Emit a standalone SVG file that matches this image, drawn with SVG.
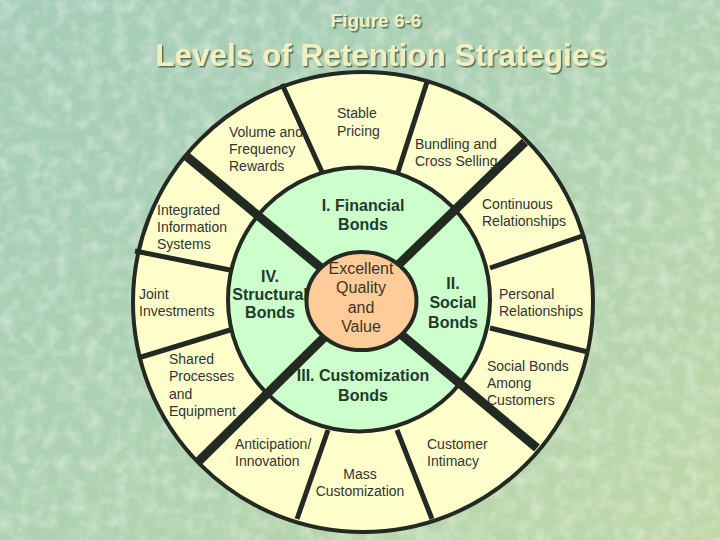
<svg xmlns="http://www.w3.org/2000/svg" width="720" height="540" viewBox="0 0 720 540">
<defs>
<linearGradient id="bg" x1="0" y1="0" x2="1" y2="1">
<stop offset="0" stop-color="#a4ccb8"/>
<stop offset="0.5" stop-color="#aed2b2"/>
<stop offset="1" stop-color="#bfd8a8"/>
</linearGradient>
<filter id="tex" x="0" y="0" width="100%" height="100%">
<feTurbulence type="fractalNoise" baseFrequency="0.07" numOctaves="3" seed="4"/>
<feColorMatrix type="matrix" values="0 0 0 0 1  0 0 0 0 1  0 0 0 0 1  0 0 0 -1.8 1.1"/>
</filter>
<filter id="sh" x="-5%" y="-20%" width="110%" height="140%">
<feDropShadow dx="1.5" dy="1.5" stdDeviation="0.6" flood-color="#40584a" flood-opacity="0.8"/>
</filter>
<style>
.lbl{font-family:"Liberation Sans",Arial,sans-serif;font-size:14px;fill:#333333}
.bold{font-family:"Liberation Sans",Arial,sans-serif;font-size:16px;font-weight:bold;fill:#223a2a;text-anchor:middle}
.ctr{font-family:"Liberation Sans",Arial,sans-serif;font-size:16px;fill:#3a3528;text-anchor:middle}
.ttl{font-family:"Liberation Sans",Arial,sans-serif;font-weight:bold;fill:#f2efbf;text-anchor:middle}
.thin{stroke:#222a22;stroke-width:5;fill:none}
.thick{stroke:#222a22;stroke-width:9;fill:none}
.ring{stroke:#222a22;stroke-width:4}
</style>
</defs>
<rect width="720" height="540" fill="url(#bg)"/>
<rect width="720" height="540" filter="url(#tex)" opacity="0.4"/>

<g id="title" filter="url(#sh)">
<text class="ttl" x="376" y="27" font-size="19">Figure 6-6</text>
<text class="ttl" x="381" y="66" font-size="31.5">Levels of Retention Strategies</text>
</g>

<g id="outer-ring">
<circle class="ring" cx="363" cy="302" r="230" fill="#ffffcc"/>
</g>
<g id="bonds-ring">
<ellipse class="ring" cx="359" cy="299.5" rx="131" ry="132" fill="#ccffcc"/>
</g>

<g id="connectors">
<line class="thick" x1="361" y1="301" x2="185" y2="155"/>
<line class="thick" x1="361" y1="301" x2="525" y2="142"/>
<line class="thick" x1="361" y1="301" x2="198" y2="462"/>
<line class="thick" x1="361" y1="301" x2="537" y2="448"/>
<line class="thin" x1="322" y1="172" x2="282" y2="84"/>
<line class="thin" x1="398" y1="172" x2="427" y2="82"/>
<line class="thin" x1="230" y1="270" x2="135" y2="251"/>
<line class="thin" x1="230" y1="330" x2="138" y2="358"/>
<line class="thin" x1="490" y1="268" x2="585" y2="235"/>
<line class="thin" x1="490" y1="328" x2="588" y2="352"/>
<line class="thin" x1="328" y1="430" x2="297" y2="519"/>
<line class="thin" x1="397" y1="430" x2="432" y2="519"/>
</g>

<g id="volume-frequency-rewards"><text class="lbl"><tspan x="229" y="137">Volume and</tspan><tspan x="229" y="154">Frequency</tspan><tspan x="229" y="171">Rewards</tspan></text></g>
<g id="stable-pricing"><text class="lbl"><tspan x="337" y="118">Stable</tspan><tspan x="337" y="136">Pricing</tspan></text></g>
<g id="bundling-cross-selling"><text class="lbl"><tspan x="415" y="149">Bundling and</tspan><tspan x="415" y="166">Cross Selling</tspan></text></g>
<g id="continuous-relationships"><text class="lbl"><tspan x="482" y="209">Continuous</tspan><tspan x="482" y="226">Relationships</tspan></text></g>
<g id="integrated-information-systems"><text class="lbl"><tspan x="157" y="215">Integrated</tspan><tspan x="157" y="232">Information</tspan><tspan x="157" y="249">Systems</tspan></text></g>
<g id="joint-investments"><text class="lbl"><tspan x="139" y="299">Joint</tspan><tspan x="139" y="316">Investments</tspan></text></g>
<g id="personal-relationships"><text class="lbl"><tspan x="499" y="299">Personal</tspan><tspan x="499" y="316">Relationships</tspan></text></g>
<g id="shared-processes"><text class="lbl"><tspan x="169" y="364">Shared</tspan><tspan x="169" y="381">Processes</tspan><tspan x="169" y="399">and</tspan><tspan x="169" y="416">Equipment</tspan></text></g>
<g id="social-bonds-among-customers"><text class="lbl"><tspan x="487" y="371">Social Bonds</tspan><tspan x="487" y="388">Among</tspan><tspan x="487" y="405">Customers</tspan></text></g>
<g id="anticipation-innovation"><text class="lbl"><tspan x="235" y="449">Anticipation/</tspan><tspan x="235" y="466">Innovation</tspan></text></g>
<g id="mass-customization"><text class="lbl" text-anchor="middle"><tspan x="360" y="479">Mass</tspan><tspan x="360" y="496">Customization</tspan></text></g>
<g id="customer-intimacy"><text class="lbl"><tspan x="427" y="449">Customer</tspan><tspan x="427" y="466">Intimacy</tspan></text></g>

<g id="financial-bonds"><text class="bold"><tspan x="363" y="211">I. Financial</tspan><tspan x="363" y="230">Bonds</tspan></text></g>
<g id="social-bonds"><text class="bold"><tspan x="453" y="289">II.</tspan><tspan x="453" y="308">Social</tspan><tspan x="453" y="328">Bonds</tspan></text></g>
<g id="customization-bonds"><text class="bold"><tspan x="363" y="381">III. Customization</tspan><tspan x="363" y="401">Bonds</tspan></text></g>
<g id="structural-bonds"><text class="bold" font-size="15"><tspan x="270" y="282">IV.</tspan><tspan x="270" y="300">Structural</tspan><tspan x="270" y="318">Bonds</tspan></text></g>

<g id="core">
<ellipse class="ring" cx="361.5" cy="301" rx="55" ry="49" fill="#ffcc99"/>
<text class="ctr"><tspan x="361" y="274">Excellent</tspan><tspan x="361" y="293">Quality</tspan><tspan x="361" y="313">and</tspan><tspan x="361" y="332">Value</tspan></text>
</g>
</svg>
